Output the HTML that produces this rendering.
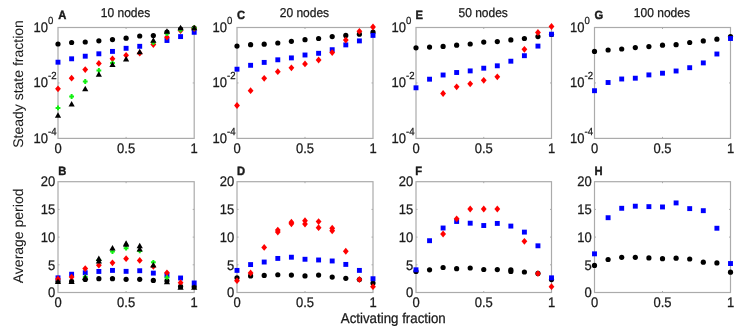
<!DOCTYPE html>
<html><head><meta charset="utf-8"><style>
html,body{margin:0;padding:0;background:#fff;width:750px;height:334px;overflow:hidden}
svg{display:block;filter:blur(0.4px)}
text{font-family:"Liberation Sans",sans-serif;text-rendering:geometricPrecision}
</style></head><body>
<svg width="750" height="334" viewBox="0 0 750 334">
<rect width="750" height="334" fill="#fff"/>
<rect x="58.00" y="27.50" width="136.20" height="110.90" fill="none" stroke="#ababab" stroke-width="1.2"/>
<path d="M126.10 138.40V136.90M126.10 27.50V29.00" stroke="#ababab" stroke-width="1"/>
<path d="M58.00 82.95H59.50M194.20 82.95H192.70" stroke="#ababab" stroke-width="1"/>
<rect x="58.00" y="181.70" width="136.20" height="110.80" fill="none" stroke="#ababab" stroke-width="1.2"/>
<path d="M126.10 292.50V291.00M126.10 181.70V183.20" stroke="#ababab" stroke-width="1"/>
<path d="M58.00 209.40H59.50M194.20 209.40H192.70" stroke="#ababab" stroke-width="1"/>
<path d="M58.00 237.10H59.50M194.20 237.10H192.70" stroke="#ababab" stroke-width="1"/>
<path d="M58.00 264.80H59.50M194.20 264.80H192.70" stroke="#ababab" stroke-width="1"/>
<rect x="237.00" y="27.50" width="136.00" height="110.90" fill="none" stroke="#ababab" stroke-width="1.2"/>
<path d="M305.00 138.40V136.90M305.00 27.50V29.00" stroke="#ababab" stroke-width="1"/>
<path d="M237.00 82.95H238.50M373.00 82.95H371.50" stroke="#ababab" stroke-width="1"/>
<rect x="237.00" y="181.70" width="136.00" height="110.80" fill="none" stroke="#ababab" stroke-width="1.2"/>
<path d="M305.00 292.50V291.00M305.00 181.70V183.20" stroke="#ababab" stroke-width="1"/>
<path d="M237.00 209.40H238.50M373.00 209.40H371.50" stroke="#ababab" stroke-width="1"/>
<path d="M237.00 237.10H238.50M373.00 237.10H371.50" stroke="#ababab" stroke-width="1"/>
<path d="M237.00 264.80H238.50M373.00 264.80H371.50" stroke="#ababab" stroke-width="1"/>
<rect x="416.00" y="27.50" width="135.50" height="110.90" fill="none" stroke="#ababab" stroke-width="1.2"/>
<path d="M483.75 138.40V136.90M483.75 27.50V29.00" stroke="#ababab" stroke-width="1"/>
<path d="M416.00 82.95H417.50M551.50 82.95H550.00" stroke="#ababab" stroke-width="1"/>
<rect x="416.00" y="181.70" width="135.50" height="110.80" fill="none" stroke="#ababab" stroke-width="1.2"/>
<path d="M483.75 292.50V291.00M483.75 181.70V183.20" stroke="#ababab" stroke-width="1"/>
<path d="M416.00 209.40H417.50M551.50 209.40H550.00" stroke="#ababab" stroke-width="1"/>
<path d="M416.00 237.10H417.50M551.50 237.10H550.00" stroke="#ababab" stroke-width="1"/>
<path d="M416.00 264.80H417.50M551.50 264.80H550.00" stroke="#ababab" stroke-width="1"/>
<rect x="594.50" y="27.50" width="136.00" height="110.90" fill="none" stroke="#ababab" stroke-width="1.2"/>
<path d="M662.50 138.40V136.90M662.50 27.50V29.00" stroke="#ababab" stroke-width="1"/>
<path d="M594.50 82.95H596.00M730.50 82.95H729.00" stroke="#ababab" stroke-width="1"/>
<rect x="594.50" y="181.70" width="136.00" height="110.80" fill="none" stroke="#ababab" stroke-width="1.2"/>
<path d="M662.50 292.50V291.00M662.50 181.70V183.20" stroke="#ababab" stroke-width="1"/>
<path d="M594.50 209.40H596.00M730.50 209.40H729.00" stroke="#ababab" stroke-width="1"/>
<path d="M594.50 237.10H596.00M730.50 237.10H729.00" stroke="#ababab" stroke-width="1"/>
<path d="M594.50 264.80H596.00M730.50 264.80H729.00" stroke="#ababab" stroke-width="1"/>
<circle cx="58.00" cy="44.00" r="2.6" fill="#000"/>
<circle cx="71.62" cy="42.50" r="2.6" fill="#000"/>
<circle cx="85.24" cy="42.00" r="2.6" fill="#000"/>
<circle cx="98.86" cy="40.80" r="2.6" fill="#000"/>
<circle cx="112.48" cy="39.60" r="2.6" fill="#000"/>
<circle cx="126.10" cy="38.20" r="2.6" fill="#000"/>
<circle cx="139.72" cy="36.00" r="2.6" fill="#000"/>
<circle cx="153.34" cy="35.50" r="2.6" fill="#000"/>
<circle cx="166.96" cy="32.00" r="2.6" fill="#000"/>
<circle cx="180.58" cy="29.00" r="2.6" fill="#000"/>
<circle cx="194.20" cy="28.00" r="2.6" fill="#000"/>
<rect x="55.55" y="59.75" width="4.9" height="4.9" fill="#0000ff"/>
<rect x="69.17" y="56.35" width="4.9" height="4.9" fill="#0000ff"/>
<rect x="82.79" y="53.75" width="4.9" height="4.9" fill="#0000ff"/>
<rect x="96.41" y="51.35" width="4.9" height="4.9" fill="#0000ff"/>
<rect x="110.03" y="48.95" width="4.9" height="4.9" fill="#0000ff"/>
<rect x="123.65" y="45.85" width="4.9" height="4.9" fill="#0000ff"/>
<rect x="137.27" y="43.85" width="4.9" height="4.9" fill="#0000ff"/>
<rect x="164.51" y="38.05" width="4.9" height="4.9" fill="#0000ff"/>
<rect x="178.13" y="34.15" width="4.9" height="4.9" fill="#0000ff"/>
<rect x="191.75" y="29.85" width="4.9" height="4.9" fill="#0000ff"/>
<path d="M58.00 85.40L60.90 88.80L58.00 92.20L55.10 88.80Z" fill="#ff0000"/>
<path d="M71.62 74.80L74.52 78.20L71.62 81.60L68.72 78.20Z" fill="#ff0000"/>
<path d="M85.24 66.20L88.14 69.60L85.24 73.00L82.34 69.60Z" fill="#ff0000"/>
<path d="M98.86 60.00L101.76 63.40L98.86 66.80L95.96 63.40Z" fill="#ff0000"/>
<path d="M112.48 55.40L115.38 58.80L112.48 62.20L109.58 58.80Z" fill="#ff0000"/>
<path d="M126.10 51.90L129.00 55.30L126.10 58.70L123.20 55.30Z" fill="#ff0000"/>
<path d="M139.72 49.80L142.62 53.20L139.72 56.60L136.82 53.20Z" fill="#ff0000"/>
<path d="M153.34 41.10L156.24 44.50L153.34 47.90L150.44 44.50Z" fill="#ff0000"/>
<path d="M166.96 33.80L169.86 37.20L166.96 40.60L164.06 37.20Z" fill="#ff0000"/>
<path d="M180.58 27.10L183.48 30.50L180.58 33.90L177.68 30.50Z" fill="#ff0000"/>
<path d="M194.20 25.10L197.10 28.50L194.20 31.90L191.30 28.50Z" fill="#ff0000"/>
<path d="M55.60 107.90H60.40M58.00 105.50V110.30" stroke="#10f010" stroke-width="2.0"/>
<path d="M69.22 96.50H74.02M71.62 94.10V98.90" stroke="#10f010" stroke-width="2.0"/>
<path d="M82.84 81.50H87.64M85.24 79.10V83.90" stroke="#10f010" stroke-width="2.0"/>
<path d="M96.46 70.40H101.26M98.86 68.00V72.80" stroke="#10f010" stroke-width="2.0"/>
<path d="M110.08 63.10H114.88M112.48 60.70V65.50" stroke="#10f010" stroke-width="2.0"/>
<path d="M150.94 42.60H155.74M153.34 40.20V45.00" stroke="#10f010" stroke-width="2.0"/>
<path d="M164.56 33.60H169.36M166.96 31.20V36.00" stroke="#10f010" stroke-width="2.0"/>
<path d="M178.18 30.00H182.98M180.58 27.60V32.40" stroke="#10f010" stroke-width="2.0"/>
<path d="M191.80 28.00H196.60M194.20 25.60V30.40" stroke="#10f010" stroke-width="2.0"/>
<path d="M58.00 112.35L61.10 117.85L54.90 117.85Z" fill="#000"/>
<path d="M71.62 101.05L74.72 106.55L68.52 106.55Z" fill="#000"/>
<path d="M85.24 85.65L88.34 91.15L82.14 91.15Z" fill="#000"/>
<path d="M98.86 71.25L101.96 76.75L95.76 76.75Z" fill="#000"/>
<path d="M112.48 61.45L115.58 66.95L109.38 66.95Z" fill="#000"/>
<path d="M126.10 55.95L129.20 61.45L123.00 61.45Z" fill="#000"/>
<path d="M139.72 48.65L142.82 54.15L136.62 54.15Z" fill="#000"/>
<path d="M153.34 37.25L156.44 42.75L150.24 42.75Z" fill="#000"/>
<path d="M166.96 28.25L170.06 33.75L163.86 33.75Z" fill="#000"/>
<path d="M180.58 24.85L183.68 30.35L177.48 30.35Z" fill="#000"/>
<path d="M194.20 24.85L197.30 30.35L191.10 30.35Z" fill="#000"/>
<circle cx="237.00" cy="46.10" r="2.6" fill="#000"/>
<circle cx="250.60" cy="44.70" r="2.6" fill="#000"/>
<circle cx="264.20" cy="44.20" r="2.6" fill="#000"/>
<circle cx="277.80" cy="43.00" r="2.6" fill="#000"/>
<circle cx="291.40" cy="41.30" r="2.6" fill="#000"/>
<circle cx="305.00" cy="39.70" r="2.6" fill="#000"/>
<circle cx="318.60" cy="38.50" r="2.6" fill="#000"/>
<circle cx="332.20" cy="36.60" r="2.6" fill="#000"/>
<circle cx="345.80" cy="35.40" r="2.6" fill="#000"/>
<circle cx="359.40" cy="34.20" r="2.6" fill="#000"/>
<circle cx="373.00" cy="32.20" r="2.6" fill="#000"/>
<rect x="234.55" y="66.75" width="4.9" height="4.9" fill="#0000ff"/>
<rect x="248.15" y="62.85" width="4.9" height="4.9" fill="#0000ff"/>
<rect x="261.75" y="59.95" width="4.9" height="4.9" fill="#0000ff"/>
<rect x="275.35" y="57.35" width="4.9" height="4.9" fill="#0000ff"/>
<rect x="288.95" y="55.45" width="4.9" height="4.9" fill="#0000ff"/>
<rect x="302.55" y="52.55" width="4.9" height="4.9" fill="#0000ff"/>
<rect x="316.15" y="50.85" width="4.9" height="4.9" fill="#0000ff"/>
<rect x="329.75" y="47.25" width="4.9" height="4.9" fill="#0000ff"/>
<rect x="343.35" y="42.45" width="4.9" height="4.9" fill="#0000ff"/>
<rect x="356.95" y="38.45" width="4.9" height="4.9" fill="#0000ff"/>
<rect x="370.55" y="32.95" width="4.9" height="4.9" fill="#0000ff"/>
<path d="M237.00 102.10L239.90 105.50L237.00 108.90L234.10 105.50Z" fill="#ff0000"/>
<path d="M250.60 87.30L253.50 90.70L250.60 94.10L247.70 90.70Z" fill="#ff0000"/>
<path d="M264.20 74.90L267.10 78.30L264.20 81.70L261.30 78.30Z" fill="#ff0000"/>
<path d="M277.80 68.30L280.70 71.70L277.80 75.10L274.90 71.70Z" fill="#ff0000"/>
<path d="M291.40 64.40L294.30 67.80L291.40 71.20L288.50 67.80Z" fill="#ff0000"/>
<path d="M305.00 60.50L307.90 63.90L305.00 67.30L302.10 63.90Z" fill="#ff0000"/>
<path d="M318.60 56.60L321.50 60.00L318.60 63.40L315.70 60.00Z" fill="#ff0000"/>
<path d="M332.20 49.20L335.10 52.60L332.20 56.00L329.30 52.60Z" fill="#ff0000"/>
<path d="M345.80 36.70L348.70 40.10L345.80 43.50L342.90 40.10Z" fill="#ff0000"/>
<path d="M359.40 27.90L362.30 31.30L359.40 34.70L356.50 31.30Z" fill="#ff0000"/>
<path d="M373.00 23.60L375.90 27.00L373.00 30.40L370.10 27.00Z" fill="#ff0000"/>
<circle cx="416.00" cy="47.80" r="2.6" fill="#000"/>
<circle cx="429.55" cy="47.10" r="2.6" fill="#000"/>
<circle cx="443.10" cy="46.40" r="2.6" fill="#000"/>
<circle cx="456.65" cy="45.20" r="2.6" fill="#000"/>
<circle cx="470.20" cy="44.00" r="2.6" fill="#000"/>
<circle cx="483.75" cy="42.10" r="2.6" fill="#000"/>
<circle cx="497.30" cy="41.60" r="2.6" fill="#000"/>
<circle cx="510.85" cy="39.90" r="2.6" fill="#000"/>
<circle cx="524.40" cy="38.50" r="2.6" fill="#000"/>
<circle cx="537.95" cy="36.60" r="2.6" fill="#000"/>
<circle cx="551.50" cy="34.50" r="2.6" fill="#000"/>
<rect x="413.55" y="85.35" width="4.9" height="4.9" fill="#0000ff"/>
<rect x="427.10" y="76.75" width="4.9" height="4.9" fill="#0000ff"/>
<rect x="440.65" y="72.55" width="4.9" height="4.9" fill="#0000ff"/>
<rect x="454.20" y="70.05" width="4.9" height="4.9" fill="#0000ff"/>
<rect x="467.75" y="68.45" width="4.9" height="4.9" fill="#0000ff"/>
<rect x="481.30" y="65.75" width="4.9" height="4.9" fill="#0000ff"/>
<rect x="494.85" y="63.35" width="4.9" height="4.9" fill="#0000ff"/>
<rect x="508.40" y="58.75" width="4.9" height="4.9" fill="#0000ff"/>
<rect x="521.95" y="53.25" width="4.9" height="4.9" fill="#0000ff"/>
<rect x="535.50" y="43.65" width="4.9" height="4.9" fill="#0000ff"/>
<rect x="549.05" y="31.75" width="4.9" height="4.9" fill="#0000ff"/>
<path d="M443.10 90.10L446.00 93.50L443.10 96.90L440.20 93.50Z" fill="#ff0000"/>
<path d="M456.65 83.40L459.55 86.80L456.65 90.20L453.75 86.80Z" fill="#ff0000"/>
<path d="M470.20 80.40L473.10 83.80L470.20 87.20L467.30 83.80Z" fill="#ff0000"/>
<path d="M483.75 76.90L486.65 80.30L483.75 83.70L480.85 80.30Z" fill="#ff0000"/>
<path d="M497.30 73.40L500.20 76.80L497.30 80.20L494.40 76.80Z" fill="#ff0000"/>
<path d="M524.40 45.90L527.30 49.30L524.40 52.70L521.50 49.30Z" fill="#ff0000"/>
<path d="M537.95 29.10L540.85 32.50L537.95 35.90L535.05 32.50Z" fill="#ff0000"/>
<path d="M551.50 23.10L554.40 26.50L551.50 29.90L548.60 26.50Z" fill="#ff0000"/>
<circle cx="594.50" cy="51.40" r="2.6" fill="#000"/>
<circle cx="608.10" cy="50.00" r="2.6" fill="#000"/>
<circle cx="621.70" cy="49.00" r="2.6" fill="#000"/>
<circle cx="635.30" cy="47.60" r="2.6" fill="#000"/>
<circle cx="648.90" cy="46.60" r="2.6" fill="#000"/>
<circle cx="662.50" cy="45.20" r="2.6" fill="#000"/>
<circle cx="676.10" cy="44.70" r="2.6" fill="#000"/>
<circle cx="689.70" cy="42.50" r="2.6" fill="#000"/>
<circle cx="703.30" cy="40.90" r="2.6" fill="#000"/>
<circle cx="716.90" cy="39.20" r="2.6" fill="#000"/>
<circle cx="730.50" cy="36.60" r="2.6" fill="#000"/>
<rect x="592.05" y="88.25" width="4.9" height="4.9" fill="#0000ff"/>
<rect x="605.65" y="80.05" width="4.9" height="4.9" fill="#0000ff"/>
<rect x="619.25" y="76.55" width="4.9" height="4.9" fill="#0000ff"/>
<rect x="632.85" y="75.75" width="4.9" height="4.9" fill="#0000ff"/>
<rect x="646.45" y="72.45" width="4.9" height="4.9" fill="#0000ff"/>
<rect x="660.05" y="70.75" width="4.9" height="4.9" fill="#0000ff"/>
<rect x="673.65" y="68.55" width="4.9" height="4.9" fill="#0000ff"/>
<rect x="687.25" y="65.25" width="4.9" height="4.9" fill="#0000ff"/>
<rect x="700.85" y="60.45" width="4.9" height="4.9" fill="#0000ff"/>
<rect x="714.45" y="51.55" width="4.9" height="4.9" fill="#0000ff"/>
<rect x="728.05" y="36.05" width="4.9" height="4.9" fill="#0000ff"/>
<circle cx="58.00" cy="281.42" r="2.6" fill="#000"/>
<circle cx="71.62" cy="281.42" r="2.6" fill="#000"/>
<circle cx="85.24" cy="279.43" r="2.6" fill="#000"/>
<circle cx="98.86" cy="278.65" r="2.6" fill="#000"/>
<circle cx="112.48" cy="278.65" r="2.6" fill="#000"/>
<circle cx="126.10" cy="279.37" r="2.6" fill="#000"/>
<circle cx="139.72" cy="279.37" r="2.6" fill="#000"/>
<circle cx="153.34" cy="280.42" r="2.6" fill="#000"/>
<circle cx="166.96" cy="280.87" r="2.6" fill="#000"/>
<circle cx="180.58" cy="286.41" r="2.6" fill="#000"/>
<circle cx="194.20" cy="286.68" r="2.6" fill="#000"/>
<rect x="55.55" y="275.37" width="4.9" height="4.9" fill="#0000ff"/>
<rect x="69.17" y="271.77" width="4.9" height="4.9" fill="#0000ff"/>
<rect x="82.79" y="270.33" width="4.9" height="4.9" fill="#0000ff"/>
<rect x="96.41" y="269.00" width="4.9" height="4.9" fill="#0000ff"/>
<rect x="110.03" y="267.95" width="4.9" height="4.9" fill="#0000ff"/>
<rect x="123.65" y="268.89" width="4.9" height="4.9" fill="#0000ff"/>
<rect x="137.27" y="268.28" width="4.9" height="4.9" fill="#0000ff"/>
<rect x="150.89" y="270.66" width="4.9" height="4.9" fill="#0000ff"/>
<rect x="164.51" y="272.88" width="4.9" height="4.9" fill="#0000ff"/>
<rect x="178.13" y="275.54" width="4.9" height="4.9" fill="#0000ff"/>
<rect x="191.75" y="280.52" width="4.9" height="4.9" fill="#0000ff"/>
<path d="M58.00 275.53L60.90 278.93L58.00 282.33L55.10 278.93Z" fill="#ff0000"/>
<path d="M71.62 273.70L74.52 277.10L71.62 280.50L68.72 277.10Z" fill="#ff0000"/>
<path d="M85.24 265.22L88.14 268.62L85.24 272.02L82.34 268.62Z" fill="#ff0000"/>
<path d="M98.86 261.79L101.76 265.19L98.86 268.59L95.96 265.19Z" fill="#ff0000"/>
<path d="M112.48 259.41L115.38 262.81L112.48 266.21L109.58 262.81Z" fill="#ff0000"/>
<path d="M126.10 255.31L129.00 258.71L126.10 262.11L123.20 258.71Z" fill="#ff0000"/>
<path d="M139.72 257.02L142.62 260.42L139.72 263.82L136.82 260.42Z" fill="#ff0000"/>
<path d="M153.34 263.06L156.24 266.46L153.34 269.86L150.44 266.46Z" fill="#ff0000"/>
<path d="M166.96 269.43L169.86 272.83L166.96 276.23L164.06 272.83Z" fill="#ff0000"/>
<path d="M180.58 279.29L183.48 282.69L180.58 286.09L177.68 282.69Z" fill="#ff0000"/>
<path d="M82.84 276.99H87.64M85.24 274.59V279.39" stroke="#10f010" stroke-width="2.0"/>
<path d="M96.46 260.37H101.26M98.86 257.97V262.77" stroke="#10f010" stroke-width="2.0"/>
<path d="M110.08 251.50H114.88M112.48 249.10V253.90" stroke="#10f010" stroke-width="2.0"/>
<path d="M123.70 248.18H128.50M126.10 245.78V250.58" stroke="#10f010" stroke-width="2.0"/>
<path d="M137.32 250.95H142.12M139.72 248.55V253.35" stroke="#10f010" stroke-width="2.0"/>
<path d="M150.94 262.31H155.74M153.34 259.91V264.71" stroke="#10f010" stroke-width="2.0"/>
<path d="M164.56 277.54H169.36M166.96 275.14V279.94" stroke="#10f010" stroke-width="2.0"/>
<path d="M58.00 278.56L61.10 284.06L54.90 284.06Z" fill="#000"/>
<path d="M71.62 278.45L74.72 283.95L68.52 283.95Z" fill="#000"/>
<path d="M85.24 274.51L88.34 280.01L82.14 280.01Z" fill="#000"/>
<path d="M98.86 255.40L101.96 260.90L95.76 260.90Z" fill="#000"/>
<path d="M98.86 257.89L101.96 263.39L95.76 263.39Z" fill="#000"/>
<path d="M112.48 244.88L115.58 250.38L109.38 250.38Z" fill="#000"/>
<path d="M126.10 241.27L129.20 246.77L123.00 246.77Z" fill="#000"/>
<path d="M126.10 240.17L129.20 245.67L123.00 245.67Z" fill="#000"/>
<path d="M139.72 242.66L142.82 248.16L136.62 248.16Z" fill="#000"/>
<path d="M139.72 245.98L142.82 251.48L136.62 251.48Z" fill="#000"/>
<path d="M153.34 262.05L156.44 267.55L150.24 267.55Z" fill="#000"/>
<path d="M166.96 278.67L170.06 284.17L163.86 284.17Z" fill="#000"/>
<path d="M180.58 284.21L183.68 289.71L177.48 289.71Z" fill="#000"/>
<path d="M194.20 284.21L197.30 289.71L191.10 289.71Z" fill="#000"/>
<circle cx="237.00" cy="277.82" r="2.6" fill="#000"/>
<circle cx="250.60" cy="275.88" r="2.6" fill="#000"/>
<circle cx="264.20" cy="275.38" r="2.6" fill="#000"/>
<circle cx="277.80" cy="274.77" r="2.6" fill="#000"/>
<circle cx="291.40" cy="275.10" r="2.6" fill="#000"/>
<circle cx="305.00" cy="275.88" r="2.6" fill="#000"/>
<circle cx="318.60" cy="275.10" r="2.6" fill="#000"/>
<circle cx="332.20" cy="277.10" r="2.6" fill="#000"/>
<circle cx="345.80" cy="278.32" r="2.6" fill="#000"/>
<circle cx="359.40" cy="279.48" r="2.6" fill="#000"/>
<circle cx="373.00" cy="283.03" r="2.6" fill="#000"/>
<rect x="234.55" y="267.95" width="4.9" height="4.9" fill="#0000ff"/>
<rect x="248.15" y="262.13" width="4.9" height="4.9" fill="#0000ff"/>
<rect x="261.75" y="259.58" width="4.9" height="4.9" fill="#0000ff"/>
<rect x="275.35" y="255.98" width="4.9" height="4.9" fill="#0000ff"/>
<rect x="288.95" y="254.76" width="4.9" height="4.9" fill="#0000ff"/>
<rect x="302.55" y="256.81" width="4.9" height="4.9" fill="#0000ff"/>
<rect x="316.15" y="257.53" width="4.9" height="4.9" fill="#0000ff"/>
<rect x="329.75" y="258.53" width="4.9" height="4.9" fill="#0000ff"/>
<rect x="343.35" y="261.96" width="4.9" height="4.9" fill="#0000ff"/>
<rect x="356.95" y="267.95" width="4.9" height="4.9" fill="#0000ff"/>
<rect x="370.55" y="276.26" width="4.9" height="4.9" fill="#0000ff"/>
<path d="M237.00 277.30L239.90 280.70L237.00 284.10L234.10 280.70Z" fill="#ff0000"/>
<path d="M250.60 269.60L253.50 273.00L250.60 276.40L247.70 273.00Z" fill="#ff0000"/>
<path d="M264.20 244.00L267.10 247.40L264.20 250.80L261.30 247.40Z" fill="#ff0000"/>
<path d="M277.80 226.72L280.70 230.12L277.80 233.52L274.90 230.12Z" fill="#ff0000"/>
<path d="M277.80 228.71L280.70 232.11L277.80 235.51L274.90 232.11Z" fill="#ff0000"/>
<path d="M291.40 218.74L294.30 222.14L291.40 225.54L288.50 222.14Z" fill="#ff0000"/>
<path d="M291.40 220.40L294.30 223.80L291.40 227.20L288.50 223.80Z" fill="#ff0000"/>
<path d="M305.00 217.30L307.90 220.70L305.00 224.10L302.10 220.70Z" fill="#ff0000"/>
<path d="M305.00 220.63L307.90 224.03L305.00 227.43L302.10 224.03Z" fill="#ff0000"/>
<path d="M318.60 218.19L321.50 221.59L318.60 224.99L315.70 221.59Z" fill="#ff0000"/>
<path d="M318.60 224.28L321.50 227.68L318.60 231.08L315.70 227.68Z" fill="#ff0000"/>
<path d="M332.20 224.84L335.10 228.24L332.20 231.64L329.30 228.24Z" fill="#ff0000"/>
<path d="M332.20 227.33L335.10 230.73L332.20 234.13L329.30 230.73Z" fill="#ff0000"/>
<path d="M345.80 247.83L348.70 251.23L345.80 254.63L342.90 251.23Z" fill="#ff0000"/>
<path d="M359.40 276.08L362.30 279.48L359.40 282.88L356.50 279.48Z" fill="#ff0000"/>
<path d="M373.00 283.23L375.90 286.63L373.00 290.03L370.10 286.63Z" fill="#ff0000"/>
<circle cx="416.00" cy="271.45" r="2.6" fill="#000"/>
<circle cx="429.55" cy="269.79" r="2.6" fill="#000"/>
<circle cx="443.10" cy="267.51" r="2.6" fill="#000"/>
<circle cx="456.65" cy="268.68" r="2.6" fill="#000"/>
<circle cx="470.20" cy="268.01" r="2.6" fill="#000"/>
<circle cx="483.75" cy="269.51" r="2.6" fill="#000"/>
<circle cx="497.30" cy="269.62" r="2.6" fill="#000"/>
<circle cx="510.85" cy="269.79" r="2.6" fill="#000"/>
<circle cx="510.85" cy="271.45" r="2.6" fill="#000"/>
<circle cx="524.40" cy="272.00" r="2.6" fill="#000"/>
<circle cx="537.95" cy="273.39" r="2.6" fill="#000"/>
<circle cx="551.50" cy="279.59" r="2.6" fill="#000"/>
<rect x="413.55" y="267.34" width="4.9" height="4.9" fill="#0000ff"/>
<rect x="427.10" y="238.25" width="4.9" height="4.9" fill="#0000ff"/>
<rect x="440.65" y="225.56" width="4.9" height="4.9" fill="#0000ff"/>
<rect x="454.20" y="219.03" width="4.9" height="4.9" fill="#0000ff"/>
<rect x="467.75" y="220.74" width="4.9" height="4.9" fill="#0000ff"/>
<rect x="481.30" y="223.07" width="4.9" height="4.9" fill="#0000ff"/>
<rect x="494.85" y="220.97" width="4.9" height="4.9" fill="#0000ff"/>
<rect x="508.40" y="223.63" width="4.9" height="4.9" fill="#0000ff"/>
<rect x="521.95" y="229.66" width="4.9" height="4.9" fill="#0000ff"/>
<rect x="535.50" y="243.35" width="4.9" height="4.9" fill="#0000ff"/>
<rect x="549.05" y="275.37" width="4.9" height="4.9" fill="#0000ff"/>
<path d="M443.10 230.60L446.00 234.00L443.10 237.40L440.20 234.00Z" fill="#ff0000"/>
<path d="M456.65 215.47L459.55 218.87L456.65 222.27L453.75 218.87Z" fill="#ff0000"/>
<path d="M470.20 205.61L473.10 209.01L470.20 212.41L467.30 209.01Z" fill="#ff0000"/>
<path d="M483.75 205.61L486.65 209.01L483.75 212.41L480.85 209.01Z" fill="#ff0000"/>
<path d="M497.30 205.61L500.20 209.01L497.30 212.41L494.40 209.01Z" fill="#ff0000"/>
<path d="M524.40 237.91L527.30 241.31L524.40 244.71L521.50 241.31Z" fill="#ff0000"/>
<path d="M537.95 270.21L540.85 273.61L537.95 277.01L535.05 273.61Z" fill="#ff0000"/>
<path d="M551.50 283.28L554.40 286.68L551.50 290.08L548.60 286.68Z" fill="#ff0000"/>
<circle cx="594.50" cy="265.41" r="2.6" fill="#000"/>
<circle cx="608.10" cy="259.48" r="2.6" fill="#000"/>
<circle cx="621.70" cy="257.32" r="2.6" fill="#000"/>
<circle cx="635.30" cy="257.32" r="2.6" fill="#000"/>
<circle cx="648.90" cy="257.88" r="2.6" fill="#000"/>
<circle cx="662.50" cy="258.71" r="2.6" fill="#000"/>
<circle cx="676.10" cy="258.15" r="2.6" fill="#000"/>
<circle cx="689.70" cy="258.98" r="2.6" fill="#000"/>
<circle cx="703.30" cy="262.20" r="2.6" fill="#000"/>
<circle cx="716.90" cy="262.97" r="2.6" fill="#000"/>
<circle cx="730.50" cy="272.22" r="2.6" fill="#000"/>
<rect x="592.05" y="251.38" width="4.9" height="4.9" fill="#0000ff"/>
<rect x="605.65" y="215.26" width="4.9" height="4.9" fill="#0000ff"/>
<rect x="619.25" y="205.84" width="4.9" height="4.9" fill="#0000ff"/>
<rect x="632.85" y="203.74" width="4.9" height="4.9" fill="#0000ff"/>
<rect x="646.45" y="204.18" width="4.9" height="4.9" fill="#0000ff"/>
<rect x="660.05" y="204.51" width="4.9" height="4.9" fill="#0000ff"/>
<rect x="673.65" y="200.47" width="4.9" height="4.9" fill="#0000ff"/>
<rect x="687.25" y="206.17" width="4.9" height="4.9" fill="#0000ff"/>
<rect x="700.85" y="208.22" width="4.9" height="4.9" fill="#0000ff"/>
<rect x="714.45" y="225.79" width="4.9" height="4.9" fill="#0000ff"/>
<rect x="728.05" y="261.08" width="4.9" height="4.9" fill="#0000ff"/>
<g transform="translate(125.50 17.20) scale(1 1.07)"><text x="0" y="0" font-size="12" text-anchor="middle" font-weight="normal" fill="#1a1a1a" stroke="#1a1a1a" stroke-width="0.25">10 nodes</text></g>
<g transform="translate(58.20 19.10) scale(1 1.07)"><text x="0" y="0" font-size="11.2" text-anchor="start" font-weight="bold" fill="#1a1a1a" stroke="#1a1a1a" stroke-width="0.4">A</text></g>
<g transform="translate(58.20 174.60) scale(1 1.07)"><text x="0" y="0" font-size="11.2" text-anchor="start" font-weight="bold" fill="#1a1a1a" stroke="#1a1a1a" stroke-width="0.4">B</text></g>
<g transform="translate(58.00 152.90) scale(1 1.07)"><text x="0" y="0" font-size="13" text-anchor="middle" font-weight="normal" fill="#1a1a1a" stroke="#1a1a1a" stroke-width="0.25">0</text></g>
<g transform="translate(126.10 152.90) scale(1 1.07)"><text x="0" y="0" font-size="13" text-anchor="middle" font-weight="normal" fill="#1a1a1a" stroke="#1a1a1a" stroke-width="0.25">0.5</text></g>
<g transform="translate(194.20 152.90) scale(1 1.07)"><text x="0" y="0" font-size="13" text-anchor="middle" font-weight="normal" fill="#1a1a1a" stroke="#1a1a1a" stroke-width="0.25">1</text></g>
<g transform="translate(58.00 307.30) scale(1 1.07)"><text x="0" y="0" font-size="13" text-anchor="middle" font-weight="normal" fill="#1a1a1a" stroke="#1a1a1a" stroke-width="0.25">0</text></g>
<g transform="translate(126.10 307.30) scale(1 1.07)"><text x="0" y="0" font-size="13" text-anchor="middle" font-weight="normal" fill="#1a1a1a" stroke="#1a1a1a" stroke-width="0.25">0.5</text></g>
<g transform="translate(194.20 307.30) scale(1 1.07)"><text x="0" y="0" font-size="13" text-anchor="middle" font-weight="normal" fill="#1a1a1a" stroke="#1a1a1a" stroke-width="0.25">1</text></g>
<g transform="translate(33.40 32.00) scale(1 1.07)"><text x="0" y="0" font-size="13" text-anchor="start" font-weight="normal" fill="#1a1a1a" stroke="#1a1a1a" stroke-width="0.25">10</text></g>
<g transform="translate(48.05 23.90) scale(1 1.07)"><text x="0" y="0" font-size="9.6" text-anchor="start" font-weight="normal" fill="#1a1a1a" stroke="#1a1a1a" stroke-width="0.25">0</text></g>
<g transform="translate(33.40 87.45) scale(1 1.07)"><text x="0" y="0" font-size="13" text-anchor="start" font-weight="normal" fill="#1a1a1a" stroke="#1a1a1a" stroke-width="0.25">10</text></g>
<g transform="translate(48.05 79.35) scale(1 1.07)"><text x="0" y="0" font-size="9.6" text-anchor="start" font-weight="normal" fill="#1a1a1a" stroke="#1a1a1a" stroke-width="0.25">-2</text></g>
<g transform="translate(33.40 142.90) scale(1 1.07)"><text x="0" y="0" font-size="13" text-anchor="start" font-weight="normal" fill="#1a1a1a" stroke="#1a1a1a" stroke-width="0.25">10</text></g>
<g transform="translate(48.05 134.80) scale(1 1.07)"><text x="0" y="0" font-size="9.6" text-anchor="start" font-weight="normal" fill="#1a1a1a" stroke="#1a1a1a" stroke-width="0.25">-4</text></g>
<g transform="translate(55.20 186.40) scale(1 1.07)"><text x="0" y="0" font-size="13" text-anchor="end" font-weight="normal" fill="#1a1a1a" stroke="#1a1a1a" stroke-width="0.25">20</text></g>
<g transform="translate(55.20 214.10) scale(1 1.07)"><text x="0" y="0" font-size="13" text-anchor="end" font-weight="normal" fill="#1a1a1a" stroke="#1a1a1a" stroke-width="0.25">15</text></g>
<g transform="translate(55.20 241.80) scale(1 1.07)"><text x="0" y="0" font-size="13" text-anchor="end" font-weight="normal" fill="#1a1a1a" stroke="#1a1a1a" stroke-width="0.25">10</text></g>
<g transform="translate(55.20 269.50) scale(1 1.07)"><text x="0" y="0" font-size="13" text-anchor="end" font-weight="normal" fill="#1a1a1a" stroke="#1a1a1a" stroke-width="0.25">5</text></g>
<g transform="translate(55.20 297.20) scale(1 1.07)"><text x="0" y="0" font-size="13" text-anchor="end" font-weight="normal" fill="#1a1a1a" stroke="#1a1a1a" stroke-width="0.25">0</text></g>
<g transform="translate(304.40 17.20) scale(1 1.07)"><text x="0" y="0" font-size="12" text-anchor="middle" font-weight="normal" fill="#1a1a1a" stroke="#1a1a1a" stroke-width="0.25">20 nodes</text></g>
<g transform="translate(237.00 19.10) scale(1 1.07)"><text x="0" y="0" font-size="11.2" text-anchor="start" font-weight="bold" fill="#1a1a1a" stroke="#1a1a1a" stroke-width="0.4">C</text></g>
<g transform="translate(236.90 174.60) scale(1 1.07)"><text x="0" y="0" font-size="11.2" text-anchor="start" font-weight="bold" fill="#1a1a1a" stroke="#1a1a1a" stroke-width="0.4">D</text></g>
<g transform="translate(237.00 152.90) scale(1 1.07)"><text x="0" y="0" font-size="13" text-anchor="middle" font-weight="normal" fill="#1a1a1a" stroke="#1a1a1a" stroke-width="0.25">0</text></g>
<g transform="translate(305.00 152.90) scale(1 1.07)"><text x="0" y="0" font-size="13" text-anchor="middle" font-weight="normal" fill="#1a1a1a" stroke="#1a1a1a" stroke-width="0.25">0.5</text></g>
<g transform="translate(373.00 152.90) scale(1 1.07)"><text x="0" y="0" font-size="13" text-anchor="middle" font-weight="normal" fill="#1a1a1a" stroke="#1a1a1a" stroke-width="0.25">1</text></g>
<g transform="translate(237.00 307.30) scale(1 1.07)"><text x="0" y="0" font-size="13" text-anchor="middle" font-weight="normal" fill="#1a1a1a" stroke="#1a1a1a" stroke-width="0.25">0</text></g>
<g transform="translate(305.00 307.30) scale(1 1.07)"><text x="0" y="0" font-size="13" text-anchor="middle" font-weight="normal" fill="#1a1a1a" stroke="#1a1a1a" stroke-width="0.25">0.5</text></g>
<g transform="translate(373.00 307.30) scale(1 1.07)"><text x="0" y="0" font-size="13" text-anchor="middle" font-weight="normal" fill="#1a1a1a" stroke="#1a1a1a" stroke-width="0.25">1</text></g>
<g transform="translate(212.40 32.00) scale(1 1.07)"><text x="0" y="0" font-size="13" text-anchor="start" font-weight="normal" fill="#1a1a1a" stroke="#1a1a1a" stroke-width="0.25">10</text></g>
<g transform="translate(227.05 23.90) scale(1 1.07)"><text x="0" y="0" font-size="9.6" text-anchor="start" font-weight="normal" fill="#1a1a1a" stroke="#1a1a1a" stroke-width="0.25">0</text></g>
<g transform="translate(212.40 87.45) scale(1 1.07)"><text x="0" y="0" font-size="13" text-anchor="start" font-weight="normal" fill="#1a1a1a" stroke="#1a1a1a" stroke-width="0.25">10</text></g>
<g transform="translate(227.05 79.35) scale(1 1.07)"><text x="0" y="0" font-size="9.6" text-anchor="start" font-weight="normal" fill="#1a1a1a" stroke="#1a1a1a" stroke-width="0.25">-2</text></g>
<g transform="translate(212.40 142.90) scale(1 1.07)"><text x="0" y="0" font-size="13" text-anchor="start" font-weight="normal" fill="#1a1a1a" stroke="#1a1a1a" stroke-width="0.25">10</text></g>
<g transform="translate(227.05 134.80) scale(1 1.07)"><text x="0" y="0" font-size="9.6" text-anchor="start" font-weight="normal" fill="#1a1a1a" stroke="#1a1a1a" stroke-width="0.25">-4</text></g>
<g transform="translate(234.20 186.40) scale(1 1.07)"><text x="0" y="0" font-size="13" text-anchor="end" font-weight="normal" fill="#1a1a1a" stroke="#1a1a1a" stroke-width="0.25">20</text></g>
<g transform="translate(234.20 214.10) scale(1 1.07)"><text x="0" y="0" font-size="13" text-anchor="end" font-weight="normal" fill="#1a1a1a" stroke="#1a1a1a" stroke-width="0.25">15</text></g>
<g transform="translate(234.20 241.80) scale(1 1.07)"><text x="0" y="0" font-size="13" text-anchor="end" font-weight="normal" fill="#1a1a1a" stroke="#1a1a1a" stroke-width="0.25">10</text></g>
<g transform="translate(234.20 269.50) scale(1 1.07)"><text x="0" y="0" font-size="13" text-anchor="end" font-weight="normal" fill="#1a1a1a" stroke="#1a1a1a" stroke-width="0.25">5</text></g>
<g transform="translate(234.20 297.20) scale(1 1.07)"><text x="0" y="0" font-size="13" text-anchor="end" font-weight="normal" fill="#1a1a1a" stroke="#1a1a1a" stroke-width="0.25">0</text></g>
<g transform="translate(483.15 17.20) scale(1 1.07)"><text x="0" y="0" font-size="12" text-anchor="middle" font-weight="normal" fill="#1a1a1a" stroke="#1a1a1a" stroke-width="0.25">50 nodes</text></g>
<g transform="translate(415.40 19.10) scale(1 1.07)"><text x="0" y="0" font-size="11.2" text-anchor="start" font-weight="bold" fill="#1a1a1a" stroke="#1a1a1a" stroke-width="0.4">E</text></g>
<g transform="translate(415.30 174.60) scale(1 1.07)"><text x="0" y="0" font-size="11.2" text-anchor="start" font-weight="bold" fill="#1a1a1a" stroke="#1a1a1a" stroke-width="0.4">F</text></g>
<g transform="translate(416.00 152.90) scale(1 1.07)"><text x="0" y="0" font-size="13" text-anchor="middle" font-weight="normal" fill="#1a1a1a" stroke="#1a1a1a" stroke-width="0.25">0</text></g>
<g transform="translate(483.75 152.90) scale(1 1.07)"><text x="0" y="0" font-size="13" text-anchor="middle" font-weight="normal" fill="#1a1a1a" stroke="#1a1a1a" stroke-width="0.25">0.5</text></g>
<g transform="translate(551.50 152.90) scale(1 1.07)"><text x="0" y="0" font-size="13" text-anchor="middle" font-weight="normal" fill="#1a1a1a" stroke="#1a1a1a" stroke-width="0.25">1</text></g>
<g transform="translate(416.00 307.30) scale(1 1.07)"><text x="0" y="0" font-size="13" text-anchor="middle" font-weight="normal" fill="#1a1a1a" stroke="#1a1a1a" stroke-width="0.25">0</text></g>
<g transform="translate(483.75 307.30) scale(1 1.07)"><text x="0" y="0" font-size="13" text-anchor="middle" font-weight="normal" fill="#1a1a1a" stroke="#1a1a1a" stroke-width="0.25">0.5</text></g>
<g transform="translate(551.50 307.30) scale(1 1.07)"><text x="0" y="0" font-size="13" text-anchor="middle" font-weight="normal" fill="#1a1a1a" stroke="#1a1a1a" stroke-width="0.25">1</text></g>
<g transform="translate(391.40 32.00) scale(1 1.07)"><text x="0" y="0" font-size="13" text-anchor="start" font-weight="normal" fill="#1a1a1a" stroke="#1a1a1a" stroke-width="0.25">10</text></g>
<g transform="translate(406.05 23.90) scale(1 1.07)"><text x="0" y="0" font-size="9.6" text-anchor="start" font-weight="normal" fill="#1a1a1a" stroke="#1a1a1a" stroke-width="0.25">0</text></g>
<g transform="translate(391.40 87.45) scale(1 1.07)"><text x="0" y="0" font-size="13" text-anchor="start" font-weight="normal" fill="#1a1a1a" stroke="#1a1a1a" stroke-width="0.25">10</text></g>
<g transform="translate(406.05 79.35) scale(1 1.07)"><text x="0" y="0" font-size="9.6" text-anchor="start" font-weight="normal" fill="#1a1a1a" stroke="#1a1a1a" stroke-width="0.25">-2</text></g>
<g transform="translate(391.40 142.90) scale(1 1.07)"><text x="0" y="0" font-size="13" text-anchor="start" font-weight="normal" fill="#1a1a1a" stroke="#1a1a1a" stroke-width="0.25">10</text></g>
<g transform="translate(406.05 134.80) scale(1 1.07)"><text x="0" y="0" font-size="9.6" text-anchor="start" font-weight="normal" fill="#1a1a1a" stroke="#1a1a1a" stroke-width="0.25">-4</text></g>
<g transform="translate(413.20 186.40) scale(1 1.07)"><text x="0" y="0" font-size="13" text-anchor="end" font-weight="normal" fill="#1a1a1a" stroke="#1a1a1a" stroke-width="0.25">20</text></g>
<g transform="translate(413.20 214.10) scale(1 1.07)"><text x="0" y="0" font-size="13" text-anchor="end" font-weight="normal" fill="#1a1a1a" stroke="#1a1a1a" stroke-width="0.25">15</text></g>
<g transform="translate(413.20 241.80) scale(1 1.07)"><text x="0" y="0" font-size="13" text-anchor="end" font-weight="normal" fill="#1a1a1a" stroke="#1a1a1a" stroke-width="0.25">10</text></g>
<g transform="translate(413.20 269.50) scale(1 1.07)"><text x="0" y="0" font-size="13" text-anchor="end" font-weight="normal" fill="#1a1a1a" stroke="#1a1a1a" stroke-width="0.25">5</text></g>
<g transform="translate(413.20 297.20) scale(1 1.07)"><text x="0" y="0" font-size="13" text-anchor="end" font-weight="normal" fill="#1a1a1a" stroke="#1a1a1a" stroke-width="0.25">0</text></g>
<g transform="translate(661.90 17.20) scale(1 1.07)"><text x="0" y="0" font-size="12" text-anchor="middle" font-weight="normal" fill="#1a1a1a" stroke="#1a1a1a" stroke-width="0.25">100 nodes</text></g>
<g transform="translate(594.50 19.10) scale(1 1.07)"><text x="0" y="0" font-size="11.2" text-anchor="start" font-weight="bold" fill="#1a1a1a" stroke="#1a1a1a" stroke-width="0.4">G</text></g>
<g transform="translate(594.40 174.60) scale(1 1.07)"><text x="0" y="0" font-size="11.2" text-anchor="start" font-weight="bold" fill="#1a1a1a" stroke="#1a1a1a" stroke-width="0.4">H</text></g>
<g transform="translate(594.50 152.90) scale(1 1.07)"><text x="0" y="0" font-size="13" text-anchor="middle" font-weight="normal" fill="#1a1a1a" stroke="#1a1a1a" stroke-width="0.25">0</text></g>
<g transform="translate(662.50 152.90) scale(1 1.07)"><text x="0" y="0" font-size="13" text-anchor="middle" font-weight="normal" fill="#1a1a1a" stroke="#1a1a1a" stroke-width="0.25">0.5</text></g>
<g transform="translate(730.50 152.90) scale(1 1.07)"><text x="0" y="0" font-size="13" text-anchor="middle" font-weight="normal" fill="#1a1a1a" stroke="#1a1a1a" stroke-width="0.25">1</text></g>
<g transform="translate(594.50 307.30) scale(1 1.07)"><text x="0" y="0" font-size="13" text-anchor="middle" font-weight="normal" fill="#1a1a1a" stroke="#1a1a1a" stroke-width="0.25">0</text></g>
<g transform="translate(662.50 307.30) scale(1 1.07)"><text x="0" y="0" font-size="13" text-anchor="middle" font-weight="normal" fill="#1a1a1a" stroke="#1a1a1a" stroke-width="0.25">0.5</text></g>
<g transform="translate(730.50 307.30) scale(1 1.07)"><text x="0" y="0" font-size="13" text-anchor="middle" font-weight="normal" fill="#1a1a1a" stroke="#1a1a1a" stroke-width="0.25">1</text></g>
<g transform="translate(569.90 32.00) scale(1 1.07)"><text x="0" y="0" font-size="13" text-anchor="start" font-weight="normal" fill="#1a1a1a" stroke="#1a1a1a" stroke-width="0.25">10</text></g>
<g transform="translate(584.55 23.90) scale(1 1.07)"><text x="0" y="0" font-size="9.6" text-anchor="start" font-weight="normal" fill="#1a1a1a" stroke="#1a1a1a" stroke-width="0.25">0</text></g>
<g transform="translate(569.90 87.45) scale(1 1.07)"><text x="0" y="0" font-size="13" text-anchor="start" font-weight="normal" fill="#1a1a1a" stroke="#1a1a1a" stroke-width="0.25">10</text></g>
<g transform="translate(584.55 79.35) scale(1 1.07)"><text x="0" y="0" font-size="9.6" text-anchor="start" font-weight="normal" fill="#1a1a1a" stroke="#1a1a1a" stroke-width="0.25">-2</text></g>
<g transform="translate(569.90 142.90) scale(1 1.07)"><text x="0" y="0" font-size="13" text-anchor="start" font-weight="normal" fill="#1a1a1a" stroke="#1a1a1a" stroke-width="0.25">10</text></g>
<g transform="translate(584.55 134.80) scale(1 1.07)"><text x="0" y="0" font-size="9.6" text-anchor="start" font-weight="normal" fill="#1a1a1a" stroke="#1a1a1a" stroke-width="0.25">-4</text></g>
<g transform="translate(591.70 186.40) scale(1 1.07)"><text x="0" y="0" font-size="13" text-anchor="end" font-weight="normal" fill="#1a1a1a" stroke="#1a1a1a" stroke-width="0.25">20</text></g>
<g transform="translate(591.70 214.10) scale(1 1.07)"><text x="0" y="0" font-size="13" text-anchor="end" font-weight="normal" fill="#1a1a1a" stroke="#1a1a1a" stroke-width="0.25">15</text></g>
<g transform="translate(591.70 241.80) scale(1 1.07)"><text x="0" y="0" font-size="13" text-anchor="end" font-weight="normal" fill="#1a1a1a" stroke="#1a1a1a" stroke-width="0.25">10</text></g>
<g transform="translate(591.70 269.50) scale(1 1.07)"><text x="0" y="0" font-size="13" text-anchor="end" font-weight="normal" fill="#1a1a1a" stroke="#1a1a1a" stroke-width="0.25">5</text></g>
<g transform="translate(591.70 297.20) scale(1 1.07)"><text x="0" y="0" font-size="13" text-anchor="end" font-weight="normal" fill="#1a1a1a" stroke="#1a1a1a" stroke-width="0.25">0</text></g>
<g transform="translate(22.60 84.00) scale(1 1.0) rotate(-90)"><text x="0" y="0" font-size="14" text-anchor="middle" font-weight="normal" fill="#1a1a1a" stroke="#1a1a1a" stroke-width="0.05">Steady state fraction</text></g>
<g transform="translate(22.60 235.90) scale(1 1.0) rotate(-90)"><text x="0" y="0" font-size="14" text-anchor="middle" font-weight="normal" fill="#1a1a1a" stroke="#1a1a1a" stroke-width="0.05">Average period</text></g>
<g transform="translate(340.80 322.50) scale(1 1.07)"><text x="0" y="0" font-size="13.3" text-anchor="start" font-weight="normal" fill="#1a1a1a" stroke="#1a1a1a" stroke-width="0.25">Activating fraction</text></g>
</svg></body></html>
